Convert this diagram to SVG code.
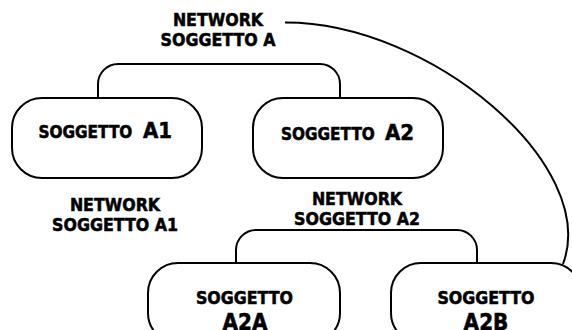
<svg xmlns="http://www.w3.org/2000/svg" width="572" height="330" viewBox="0 0 572 330">
  <style>
    .node { fill: #ffffff; stroke: #000000; stroke-width: 2; }
    .link { fill: none; stroke: #000000; stroke-width: 2; }
    text { font-family: "DejaVu Sans Condensed", "DejaVu Sans", sans-serif; font-stretch: condensed; font-weight: bold; fill: #000000; stroke: #000000; stroke-width: 0.5; }
    .label { font-size: 17.6px; text-anchor: middle; }
    .sub { font-size: 17px; }
    .code { font-size: 22px; }
    .sub2 { font-size: 17.6px; text-anchor: middle; }
    .code2 { font-size: 22.3px; text-anchor: middle; }
  </style>
  <rect x="0" y="0" width="572" height="330" fill="#ffffff"/>

  <!-- connectors -->
  <g id="connectors">
    <path class="link" d="M98,98 V84 A20,20 0 0 1 118,64 H320 A20,20 0 0 1 340,84 V98"/>
    <path class="link" d="M236,263 V250 A20,20 0 0 1 256,230 H457 A20,20 0 0 1 477,250 V263"/>
    <path class="link" d="M285,22.5 C430,22 600,165 563,264"/>
  </g>

  <!-- network labels -->
  <g id="labels">
    <text class="label" x="218" y="26">NETWORK</text>
    <text class="label" x="218" y="46">SOGGETTO A</text>
    <text class="label" x="115" y="210.5">NETWORK</text>
    <text class="label" x="115" y="230.5">SOGGETTO A1</text>
    <text class="label" x="357" y="205">NETWORK</text>
    <text class="label" x="357" y="225">SOGGETTO A2</text>
  </g>

  <!-- nodes -->
  <g id="node-a1">
    <rect class="node" x="12" y="98" width="190" height="80" rx="30" ry="30"/>
    <text y="138"><tspan class="sub" x="38.5">SOGGETTO</tspan><tspan class="code" x="143">A1</tspan></text>
  </g>
  <g id="node-a2">
    <rect class="node" x="253" y="98" width="190" height="80" rx="30" ry="30"/>
    <text y="139.5"><tspan class="sub" x="281">SOGGETTO</tspan><tspan class="code" x="385">A2</tspan></text>
  </g>
  <g id="node-a2a">
    <rect class="node" x="148" y="263" width="192" height="80" rx="30" ry="30"/>
    <text class="sub2" x="244.5" y="304">SOGGETTO</text>
    <text class="code2" x="245" y="329.5">A2A</text>
  </g>
  <g id="node-a2b">
    <rect class="node" x="391" y="263" width="190" height="80" rx="30" ry="30"/>
    <text class="sub2" x="486" y="304">SOGGETTO</text>
    <text class="code2" x="486" y="329.5">A2B</text>
  </g>
</svg>
